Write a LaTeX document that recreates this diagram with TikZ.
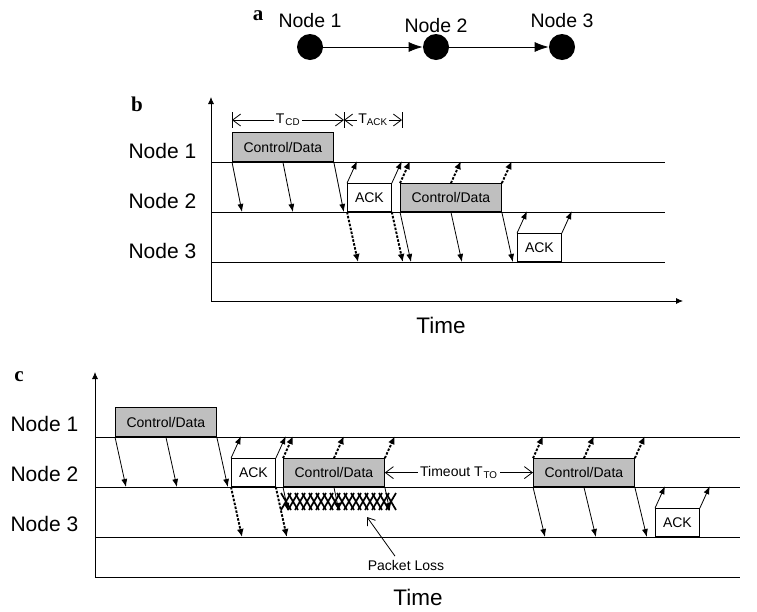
\documentclass[tikz,border=0pt]{standalone}
\usepackage{fontspec}
\setmainfont{Liberation Sans}
\newfontfamily\panelfont{Liberation Serif}
\usetikzlibrary{arrows.meta}

\tikzset{
  panel/.style={font=\panelfont\bfseries\fontsize{21}{24}\selectfont},
  lbl/.style={font=\fontsize{21}{24}\selectfont},
  timelbl/.style={font=\fontsize{22.5}{26}\selectfont},
  toplbl/.style={font=\fontsize{19.5}{22}\selectfont},
  small/.style={font=\fontsize{14}{16}\selectfont},
  dot/.style={circle, fill=black, minimum size=26pt, inner sep=0pt},
  cdbox/.style={draw, fill=gray!50, minimum width=101pt, minimum height=28pt,
    inner sep=0pt, anchor=south west, small},
  ackbox/.style={cdbox, fill=white, minimum width=44pt},
  axis/.style={-{Latex[length=7pt,width=6pt]}},
  sig/.style={-{Latex[length=8pt,width=6pt]}},
  fwd/.style={-{Latex[length=8pt,width=7pt]}, line width=1.9pt,
    dash pattern=on 2.5pt off 1.5pt},
  dim/.style={{Straight Barb[length=8pt,width=12pt]}-{Straight Barb[length=8pt,width=12pt]}},
  ptr/.style={-{Straight Barb[length=7pt,width=10pt]}}
}

\begin{document}
\begin{tikzpicture}[x=1pt, y=-1pt, line width=0.8pt]

\useasboundingbox (0,0) rectangle (757,611);

%%%%%%%%%%%%%%%%%%%%%%%%%%%%%%%%%%%%%%%%%%%%%%%%%%%%%%%%%%
% PART A : TOPOLOGY
%%%%%%%%%%%%%%%%%%%%%%%%%%%%%%%%%%%%%%%%%%%%%%%%%%%%%%%%%%

\node[panel](pa) at (258,16) {a};

\foreach \n/\x/\ly in {1/310/21, 2/436/26, 3/562/21}{
  \node[dot](n\n) at (\x,47) {};
  \node[toplbl](t\n) at (\x,\ly) {Node \n};
}

\draw[-{Latex[length=14pt,width=10pt]}] (n1)--(n2);
\draw[-{Latex[length=14pt,width=10pt]}] (n2)--(n3);

%%%%%%%%%%%%%%%%%%%%%%%%%%%%%%%%%%%%%%%%%%%%%%%%%%%%%%%%%%
% PART B : NORMAL EXCHANGE
%%%%%%%%%%%%%%%%%%%%%%%%%%%%%%%%%%%%%%%%%%%%%%%%%%%%%%%%%%

\node[panel](pb) at (137,104) {b};

\draw[axis] (211,301)--(211,97);
\draw[axis] (211,301)--(683,301);

\foreach \y/\n in {162/1, 212/2, 262/3}{
  \draw (211,\y)--(665,\y);
  \node[lbl, anchor=east](bl\n) at (200,\y-11) {Node \n};
}

\node[timelbl](timeb) at (441,325) {Time};

% timing marks
\foreach \x in {232,344,402}
  \draw (\x,112)--(\x,128);
\coordinate (tcdL) at (232,120);
\coordinate (tcdR) at (344,120);
\coordinate (tackR) at (402,120);
\draw[dim] (tcdL)--(tcdR) node[midway, fill=white, inner sep=1.5pt, small]{T\kern1pt\textsubscript{CD}};
\draw[dim] (tcdR)--(tackR) node[midway, fill=white, inner sep=1pt, small]{T\textsubscript{ACK}};

% packets
\node[cdbox, minimum height=29pt](cdb1) at (232,162) {Control/Data};
\node[ackbox](ackb1) at (347,212) {ACK};
\node[cdbox](cdb2) at (400,212) {Control/Data};
\node[ackbox](ackb2) at (517,262) {ACK};

\foreach \a in {south west, south, south east}
  \draw[sig] (cdb1.\a)--++(10,50);
\foreach \a in {north west, north east}{
  \draw[sig] (ackb1.\a)--++(10,-22);
  \draw[sig] (ackb2.\a)--++(10,-22);
}
\foreach \a in {south west, south east}
  \draw[fwd] (ackb1.\a)--++(11,50);
\foreach \a in {north west, north, north east}
  \draw[fwd] (cdb2.\a)--++(10,-22);
\foreach \a in {south west, south, south east}
  \draw[sig] (cdb2.\a)--++(11,50);

%%%%%%%%%%%%%%%%%%%%%%%%%%%%%%%%%%%%%%%%%%%%%%%%%%%%%%%%%%
% PART C : LOSS AND TIMEOUT
%%%%%%%%%%%%%%%%%%%%%%%%%%%%%%%%%%%%%%%%%%%%%%%%%%%%%%%%%%

\node[panel](pc) at (19,377) {c};

\draw[axis] (95,577)--(95,372);
\draw (95,577)--(740,577);

\foreach \y/\n in {437/1, 487/2, 537/3}{
  \draw (95,\y)--(740,\y);
  \node[lbl, anchor=east](cl\n) at (82,\y-13.5) {Node \n};
}

\node[timelbl](timec) at (418,597) {Time};

% packets
\node[cdbox, minimum height=29pt](cdc1) at (115,437) {Control/Data};
\node[ackbox](ackc1) at (231,487) {ACK};
\node[cdbox](cdc2) at (283,487) {Control/Data};
\node[cdbox](cdc3) at (533,487) {Control/Data};
\node[ackbox](ackc2) at (655,537) {ACK};

\foreach \a in {south west, south, south east}
  \draw[sig] (cdc1.\a)--++(11,50);
\foreach \a in {north west, north east}{
  \draw[sig] (ackc1.\a)--++(10,-22);
  \draw[sig] (ackc2.\a)--++(10,-22);
}
\foreach \a in {south west, south east}
  \draw[fwd] (ackc1.\a)--++(11,50);
\foreach \a in {north west, north, north east}{
  \draw[fwd] (cdc2.\a)--++(10,-22);
  \draw[fwd] (cdc3.\a)--++(10,-22);
}
\foreach \a in {south west, south, south east}{
  \draw[sig] (cdc2.\a)--++(5,24);
  \draw[sig] (cdc3.\a)--++(12,50);
}

% lost packet
\foreach \x in {281,288,...,386}
  \draw[line width=1.7pt] (\x,493)--++(10,17) (\x,510)--++(10,-17);

\node[small](loss) at (406,565) {Packet Loss};
\coordinate (lossptr) at (367,517);
\draw[ptr] ([xshift=-11pt]loss.north)--(lossptr);

% timeout
\draw[dim] (cdc2.east)--(cdc3.west) node[midway, fill=white, inner sep=2pt, small]{Timeout T\kern1pt\textsubscript{TO}};

\end{tikzpicture}
\end{document}
